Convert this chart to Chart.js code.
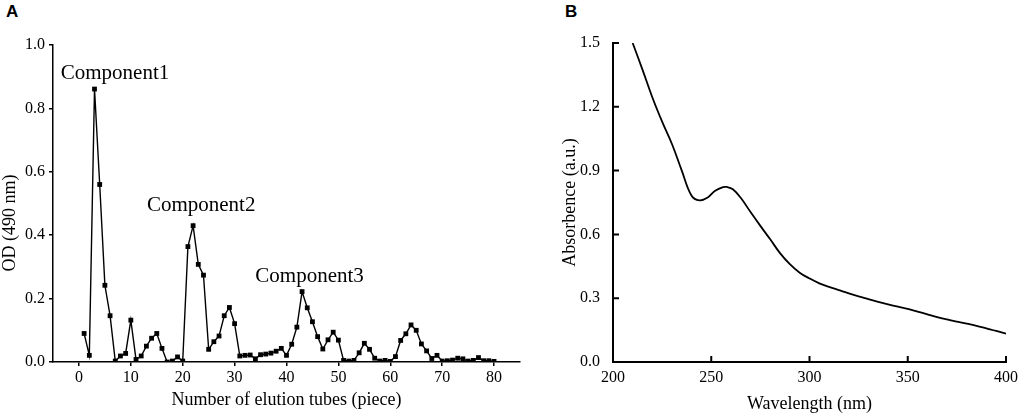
<!DOCTYPE html>
<html><head><meta charset="utf-8">
<script src="https://cdn.jsdelivr.net/npm/chart.js@4/dist/chart.umd.min.js"></script>
<style>
html,body{margin:0;padding:0;background:#fff;width:1024px;height:415px;overflow:hidden}
#cA{position:absolute;left:0;top:0}
#cB{position:absolute;left:530px;top:0}
.lab{position:absolute;font-family:"Liberation Sans",Arial,sans-serif;font-weight:bold;font-size:17px;line-height:17px;color:#000}
</style></head><body>
<div class="lab" style="left:6px;top:3px">A</div>
<div class="lab" style="left:565px;top:3px">B</div>
<canvas id="cA" width="530" height="415"></canvas>
<canvas id="cB" width="494" height="415"></canvas>
<script>
// ---------- Panel A data ----------
const tubes = [1,2,3,4,5,6,7,8,9,10,11,12,13,14,15,16,17,18,19,20,
  21,22,23,24,25,26,27,28,29,30,31,32,33,34,35,36,37,38,39,40,
  41,42,43,44,45,46,47,48,49,50,51,52,53,54,55,56,57,58,59,60,
  61,62,63,64,65,66,67,68,69,70,71,72,73,74,75,76,77,78,79,80];
const od = [0.090,0.021,0.861,0.560,0.242,0.146,0.003,0.019,0.027,0.132,
  0.008,0.019,0.050,0.075,0.090,0.043,0.000,0.003,0.016,0.003,
  0.364,0.430,0.308,0.274,0.040,0.064,0.082,0.146,0.172,0.121,
  0.019,0.021,0.022,0.010,0.023,0.025,0.028,0.034,0.043,0.021,
  0.056,0.110,0.222,0.171,0.127,0.080,0.041,0.070,0.094,0.069,
  0.005,0.003,0.005,0.029,0.059,0.040,0.012,0.003,0.005,0.002,
  0.017,0.068,0.089,0.117,0.100,0.057,0.035,0.011,0.021,0.003,
  0.004,0.006,0.012,0.010,0.003,0.005,0.014,0.004,0.004,0.002];
const tubeTicks = [0,10,20,30,40,50,60,70,80];
const odTicks = [0,0.2,0.4,0.6,0.8,1.0];
const componentNames = ['Component1','Component2','Component3'];
const componentTube = [-3.5, 13.1, 34.0];
const componentOd = [0.91, 0.495, 0.271];

// ---------- Panel B data ----------
const wavelength = [210,215,220,225,230,235,240,244,248,252,256,258,261,265,270,275,280,285,290,295,300,
  305,310,315,320,325,330,335,340,345,350,355,360,365,370,375,380,385,390,395,400];
const absorbance = [1.500,1.375,1.245,1.130,1.025,0.900,0.782,0.760,0.772,0.805,0.822,0.823,0.812,0.772,0.705,0.640,0.577,0.512,0.460,0.420,0.393,
  0.370,0.353,0.338,0.323,0.309,0.296,0.283,0.271,0.260,0.250,0.237,0.224,0.211,0.200,0.190,0.180,0.170,0.158,0.146,0.133];
const wlTicks = [200,250,300,350,400];
const absTicks = [0,0.3,0.6,0.9,1.2,1.5];

const SERIF = '"Liberation Serif","Times New Roman",serif';
Chart.defaults.color = '#000';
Chart.defaults.font.family = SERIF;
const tickFont = {family: SERIF, size: 16};
const titleFont = {family: SERIF, size: 18};

const componentPlugin = {
  id: 'componentLabels',
  afterDatasetsDraw(chart) {
    const {ctx, scales: {x, y}} = chart;
    ctx.save();
    ctx.fillStyle = '#000';
    ctx.font = '21px ' + SERIF;
    ctx.textAlign = 'left';
    ctx.textBaseline = 'middle';
    componentNames.forEach((t, i) => {
      ctx.fillText(t, x.getPixelForValue(componentTube[i]), y.getPixelForValue(componentOd[i]));
    });
    ctx.translate(10, 223);
    ctx.rotate(-Math.PI / 2);
    ctx.textAlign = 'center';
    ctx.font = '18px ' + SERIF;
    ctx.fillText('OD (490 nm)', 0, 0);
    ctx.restore();
  }
};

new Chart(document.getElementById('cA'), {
  type: 'line',
  data: {
    datasets: [{
      data: tubes.map((t, i) => ({x: t, y: od[i]})),
      borderColor: '#000',
      borderWidth: 1.4,
      pointStyle: 'rect',
      pointRadius: 3.4,
      pointBorderWidth: 0,
      pointBackgroundColor: '#000',
      tension: 0,
      fill: false
    }]
  },
  options: {
    responsive: false, animation: false, devicePixelRatio: 1,
    layout: {padding: {left: 0, top: 45, right: 10, bottom: 0}},
    plugins: {legend: {display: false}, tooltip: {enabled: false}},
    scales: {
      x: {
        type: 'linear', min: -5, max: 85,
        afterBuildTicks: s => { s.ticks = tubeTicks.map(v => ({value: v})); },
        afterFit: s => { s.height = 53; },
        grid: {display: true, drawOnChartArea: false, drawTicks: true, tickLength: 4, color: '#000', lineWidth: 1.5},
        border: {display: true, color: '#000', width: 1.5},
        ticks: {padding: 2, font: tickFont, maxRotation: 0, color: '#000'},
        title: {display: true, text: 'Number of elution tubes (piece)', font: titleFont, color: '#000', padding: {top: 0, bottom: 4}}
      },
      y: {
        type: 'linear', min: 0, max: 1.0,
        afterBuildTicks: s => { s.ticks = odTicks.map(v => ({value: v})); },
        afterFit: s => { s.width = 53; },
        grid: {display: true, drawOnChartArea: false, drawTicks: true, tickLength: 4, color: '#000', lineWidth: 1.5},
        border: {display: true, color: '#000', width: 1.5},
        ticks: {padding: 4, font: tickFont, color: '#000', callback: v => v.toFixed(1)}
      }
    }
  },
  plugins: [componentPlugin]
});

const innerTicks = {
  id: 'innerTicks',
  afterDraw(chart) {
    const {ctx, scales: {x, y}, chartArea} = chart;
    ctx.save();
    ctx.strokeStyle = '#000';
    ctx.lineWidth = 2;
    ctx.beginPath();
    wlTicks.forEach(v => {
      const px = x.getPixelForValue(v);
      ctx.moveTo(px, chartArea.bottom);
      ctx.lineTo(px, chartArea.bottom - 6);
    });
    absTicks.forEach(v => {
      const py = y.getPixelForValue(v);
      ctx.moveTo(chartArea.left, py);
      ctx.lineTo(chartArea.left + 6, py);
    });
    ctx.stroke();
    ctx.restore();
  }
};

new Chart(document.getElementById('cB'), {
  type: 'line',
  data: {
    datasets: [{
      data: wavelength.map((w, i) => ({x: w, y: absorbance[i]})),
      borderColor: '#000',
      borderWidth: 1.8,
      pointRadius: 0,
      tension: 0.4,
      fill: false
    }]
  },
  options: {
    responsive: false, animation: false, devicePixelRatio: 1,
    layout: {padding: {left: 0, top: 43, right: 16, bottom: 0}},
    plugins: {legend: {display: false}, tooltip: {enabled: false}},
    scales: {
      x: {
        type: 'linear', min: 200, max: 400,
        afterBuildTicks: s => { s.ticks = wlTicks.map(v => ({value: v})); },
        afterFit: s => { s.height = 53; },
        grid: {display: false, drawTicks: false},
        border: {display: true, color: '#000', width: 2},
        ticks: {padding: 6, font: tickFont, color: '#000', maxRotation: 0},
        title: {display: true, text: 'Wavelength (nm)', font: titleFont, color: '#000', padding: {top: 0, bottom: 0}}
      },
      y: {
        type: 'linear', min: 0, max: 1.5,
        afterBuildTicks: s => { s.ticks = absTicks.map(v => ({value: v})); },
        afterFit: s => { s.width = 83; },
        grid: {display: false, drawTicks: false},
        border: {display: true, color: '#000', width: 2},
        ticks: {padding: 13, font: tickFont, color: '#000', callback: v => v.toFixed(1)},
        title: {display: true, text: 'Absorbence (a.u.)', font: titleFont, color: '#000', padding: {top: 29, bottom: 0}}
      }
    }
  },
  plugins: [innerTicks]
});
</script>
</body></html>
